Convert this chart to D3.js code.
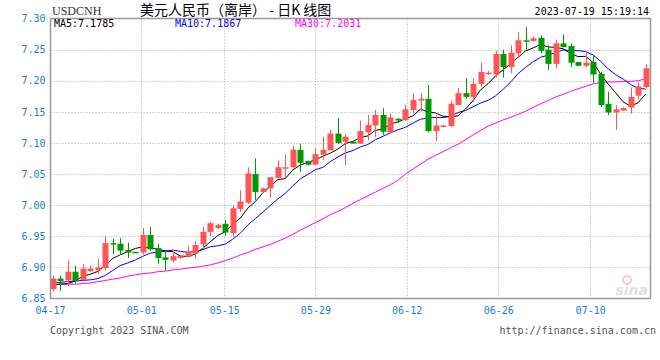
<!DOCTYPE html>
<html>
<head>
<meta charset="utf-8">
<script src="https://cdn.jsdelivr.net/npm/d3@7"></script>
<style>
body { margin: 0; background: #fff; }
</style>
</head>
<body>
<div id="chart"></div>
<script>

var openV  = [6.865,6.882,6.879,6.893,6.880,6.894,6.895,6.899,6.939,6.938,6.928,6.925,6.924,6.952,6.931,6.916,6.911,6.915,6.917,6.922,
              6.937,6.957,6.963,6.970,6.955,6.994,7.004,7.050,7.021,7.027,7.044,7.059,7.061,7.089,7.071,7.065,7.081,7.088,7.115,7.102,
              7.102,7.099,7.117,7.128,7.145,7.117,7.139,7.137,7.153,7.168,7.171,7.119,7.126,7.127,7.161,7.180,7.174,7.195,7.211,7.210,
              7.243,7.222,7.244,7.265,7.264,7.269,7.250,7.227,7.260,7.256,7.230,7.224,7.230,7.211,7.163,7.149,7.152,7.157,7.176,7.190];
var highV  = [6.887,6.887,6.911,6.903,6.905,6.903,6.914,6.950,6.946,6.947,6.940,6.925,6.963,6.965,6.938,6.928,6.928,6.920,6.934,6.942,
              6.965,6.973,6.970,6.976,7.000,7.024,7.061,7.075,7.028,7.045,7.072,7.081,7.096,7.099,7.071,7.091,7.110,7.121,7.140,7.115,
              7.103,7.136,7.145,7.153,7.156,7.147,7.140,7.161,7.180,7.180,7.193,7.145,7.129,7.168,7.189,7.204,7.204,7.229,7.216,7.248,
              7.250,7.257,7.278,7.286,7.271,7.273,7.257,7.266,7.274,7.260,7.230,7.247,7.241,7.214,7.182,7.161,7.157,7.189,7.197,7.227];
var lowV   = [6.862,6.862,6.870,6.874,6.877,6.893,6.889,6.895,6.921,6.920,6.915,6.925,6.921,6.927,6.905,6.895,6.908,6.914,6.916,6.914,
              6.930,6.950,6.962,6.951,6.949,6.989,7.002,7.008,7.020,7.012,7.043,7.044,7.059,7.053,7.064,7.065,7.073,7.088,7.099,7.064,
              7.099,7.099,7.104,7.110,7.113,7.116,7.132,7.135,7.147,7.151,7.117,7.103,7.125,7.126,7.160,7.171,7.166,7.190,7.209,7.205,
              7.205,7.212,7.236,7.250,7.263,7.244,7.217,7.220,7.254,7.222,7.224,7.222,7.196,7.158,7.145,7.121,7.152,7.147,7.170,7.188];
var closeV = [6.882,6.878,6.893,6.878,6.898,6.898,6.900,6.939,6.937,6.927,6.924,6.925,6.952,6.929,6.915,6.912,6.918,6.918,6.924,6.936,
              6.957,6.971,6.968,6.956,6.995,7.006,7.051,7.021,7.027,7.045,7.061,7.061,7.089,7.068,7.065,7.082,7.089,7.115,7.100,7.110,
              7.099,7.119,7.129,7.145,7.118,7.141,7.136,7.154,7.169,7.171,7.119,7.128,7.128,7.163,7.180,7.174,7.195,7.214,7.213,7.243,
              7.222,7.245,7.265,7.264,7.268,7.248,7.227,7.260,7.254,7.229,7.224,7.229,7.210,7.161,7.149,7.154,7.156,7.174,7.191,7.220];

var ma5  = [6.872,6.873,6.874,6.878,6.8858,6.889,6.8934,6.9026,6.9144,6.9202,6.9254,6.9304,6.933,6.9314,6.929,6.9266,6.9252,6.9184,6.9174,6.9216,
            6.9306,6.9412,6.9512,6.9576,6.9694,6.9792,6.9952,7.0058,7.020,7.030,7.041,7.043,7.0566,7.0648,7.0688,7.073,7.0786,7.0838,7.0902,7.0992,
            7.1026,7.1086,7.1114,7.1204,7.122,7.1304,7.1338,7.1388,7.1436,7.1542,7.1498,7.1482,7.143,7.1418,7.1436,7.1546,7.168,7.1852,7.1952,7.2078,
            7.2174,7.2274,7.2376,7.2478,7.2528,7.258,7.2544,7.2534,7.2514,7.2436,7.2388,7.2392,7.2292,7.2106,7.1946,7.1806,7.166,7.1588,7.1648,7.1785];
var ma10 = [6.875,6.876,6.877,6.878,6.879,6.880,6.882,6.887,6.895,6.903,6.9072,6.9119,6.9178,6.9229,6.9246,6.926,6.9278,6.9257,6.9244,6.9253,
            6.9286,6.9332,6.9348,6.9375,6.9455,6.9549,6.9682,6.9785,6.9888,6.9997,7.0101,7.0191,7.0312,7.0424,7.0494,7.057,7.0608,7.0702,7.0775,7.084,
            7.0878,7.0936,7.0976,7.1053,7.1106,7.1165,7.1212,7.1251,7.132,7.1381,7.1401,7.141,7.1409,7.1427,7.1489,7.1522,7.1581,7.1641,7.1685,7.1757,
            7.186,7.1977,7.2114,7.2215,7.2303,7.2377,7.2409,7.2455,7.2496,7.2482,7.2484,7.2468,7.2413,7.231,7.2191,7.2097,7.2026,7.194,7.1877,7.1867];
var ma30 = [6.873,6.873,6.873,6.873,6.874,6.875,6.877,6.879,6.881,6.883,6.886,6.888,6.890,6.891,6.893,6.894,6.896,6.897,6.899,6.900,
            6.902,6.904,6.907,6.911,6.915,6.920,6.924,6.929,6.933,6.937,6.942,6.947,6.953,6.960,6.966,6.972,6.978,6.985,6.990,6.996,
            7.003,7.009,7.015,7.021,7.027,7.033,7.040,7.050,7.058,7.066,7.074,7.080,7.086,7.092,7.098,7.105,7.113,7.120,7.127,7.132,
            7.137,7.141,7.146,7.151,7.157,7.163,7.168,7.174,7.178,7.183,7.187,7.191,7.195,7.197,7.198,7.198,7.199,7.199,7.200,7.2031];

var tickLabels = ["04-17", "05-01", "05-15", "05-29", "06-12", "06-26", "07-10"];
var tickPos = [-0.35, 11.8, 22.85, 35, 47.15, 59.35, 71.6];
var yTicks = [6.85, 6.90, 6.95, 7.00, 7.05, 7.10, 7.15, 7.20, 7.25, 7.30];

var svgWidth = 660;
var svgHeight = 360;
var plot = { left: 50.5, right: 650.5, top: 18.5, bottom: 298.5 };

var mono = "'DejaVu Sans Mono', 'Liberation Mono', monospace";
var blueText = "#1a7fd0";
var upColor = "#ff5555";
var downColor = "#009900";

var svg = d3.select("#chart")
    .append("svg")
    .attr("width", svgWidth)
    .attr("height", svgHeight);

var n = closeV.length;
var x = d3.scaleLinear()
    .domain([0, n - 1])
    .range([52.7, 645.7]);

var y = d3.scaleLinear()
    .domain([6.85, 7.30])
    .range([plot.bottom, plot.top]);

// grid
var grid = svg.append("g");

grid.selectAll(".hgrid")
    .data(yTicks.slice(1, -1))
    .enter()
    .append("line")
    .attr("x1", plot.left)
    .attr("x2", plot.right)
    .attr("y1", d => Math.round(y(d)) + 0.5)
    .attr("y2", d => Math.round(y(d)) + 0.5)
    .attr("stroke", "#aaa")
    .attr("stroke-dasharray", "1,2");

grid.selectAll(".vgrid")
    .data(tickPos)
    .enter()
    .append("line")
    .attr("x1", d => Math.round(x(d)) + 0.5)
    .attr("x2", d => Math.round(x(d)) + 0.5)
    .attr("y1", plot.top)
    .attr("y2", plot.bottom)
    .attr("stroke", "#aaa")
    .attr("stroke-dasharray", "1,2");

// y axis labels
var leftAxis = d3.axisLeft(y)
    .tickValues(yTicks)
    .tickFormat(d3.format(".2f"))
    .tickSize(0)
    .tickPadding(5);

var yAxis = svg.append("g")
    .attr("transform", `translate(${plot.left}, 0)`)
    .call(leftAxis);
yAxis.select(".domain").remove();
yAxis.selectAll("text")
    .attr("fill", blueText)
    .attr("font-family", mono)
    .attr("font-size", "10px");

// x axis labels
var bottomAxis = d3.axisBottom(x)
    .tickValues(tickPos)
    .tickFormat((d, i) => tickLabels[i])
    .tickSize(0)
    .tickPadding(8);

var xAxis = svg.append("g")
    .attr("transform", `translate(0, ${plot.bottom})`)
    .call(bottomAxis);
xAxis.select(".domain").remove();
xAxis.selectAll("text")
    .attr("fill", blueText)
    .attr("font-family", mono)
    .attr("font-size", "10px");

// watermark
var logo = svg.append("g").attr("opacity", 0.55);
logo.append("circle")
    .attr("cx", 627)
    .attr("cy", 280)
    .attr("r", 4)
    .attr("fill", "none")
    .attr("stroke", "#f3a0a0")
    .attr("stroke-width", 2);
logo.append("text")
    .attr("x", 648)
    .attr("y", 295)
    .attr("text-anchor", "end")
    .attr("font-family", "'DejaVu Sans', sans-serif")
    .attr("font-style", "italic")
    .attr("font-weight", "bold")
    .attr("font-size", "14px")
    .attr("fill", "#c8c8c8")
    .text("sina");

// moving averages
var maLine = function(values) {
    return d3.line()
        .x((d, i) => x(i))
        .y(d => y(d))(values);
};

svg.append("path").attr("d", maLine(ma30)).attr("fill", "none").attr("stroke", "#ff00ff").attr("stroke-width", 1);
svg.append("path").attr("d", maLine(ma10)).attr("fill", "none").attr("stroke", "#0000ff").attr("stroke-width", 1);
svg.append("path").attr("d", maLine(ma5)).attr("fill", "none").attr("stroke", "#000").attr("stroke-width", 1);

// candles
var candles = svg.selectAll(".candle")
    .data(closeV)
    .enter()
    .append("g")
    .attr("class", "candle");

var colorOf = i => closeV[i] > openV[i] ? upColor : downColor;

candles.append("line")
    .attr("x1", (d, i) => Math.round(x(i)) + 0.5)
    .attr("x2", (d, i) => Math.round(x(i)) + 0.5)
    .attr("y1", (d, i) => y(highV[i]))
    .attr("y2", (d, i) => y(lowV[i]))
    .attr("stroke", (d, i) => colorOf(i))
    .attr("stroke-width", 1);

candles.append("rect")
    .attr("x", (d, i) => Math.round(x(i)) - 2.5)
    .attr("width", 6)
    .attr("y", (d, i) => y(Math.max(openV[i], closeV[i])))
    .attr("height", (d, i) => Math.max(1.5, Math.abs(y(openV[i]) - y(closeV[i]))))
    .attr("fill", (d, i) => colorOf(i));

// frame
svg.append("rect")
    .attr("x", plot.left)
    .attr("y", plot.top)
    .attr("width", plot.right - plot.left)
    .attr("height", plot.bottom - plot.top)
    .attr("fill", "none")
    .attr("stroke", "#999")
    .attr("stroke-width", 1.5);

// header texts
svg.append("text")
    .attr("x", 52)
    .attr("y", 15)
    .attr("font-family", "'Liberation Serif', serif")
    .attr("font-size", "12px")
    .attr("fill", "#333")
    .text("USDCNH");

svg.append("text")
    .attr("x", 140)
    .attr("y", 15)
    .attr("font-family", "'Noto Sans CJK SC', sans-serif")
    .attr("font-size", "14px")
    .attr("fill", "#000")
    .text("美元人民币（离岸） - 日K 线图");

svg.append("text")
    .attr("x", 649)
    .attr("y", 15)
    .attr("text-anchor", "end")
    .attr("font-family", mono)
    .attr("font-size", "10px")
    .attr("fill", "#000")
    .text("2023-07-19 15:19:14");

var maLabels = [
    { x: 54, color: "#000", text: "MA5:" + ma5[n - 1].toFixed(4) },
    { x: 175, color: "#0000ff", text: "MA10:" + ma10[n - 1].toFixed(4) },
    { x: 295, color: "#ff00ff", text: "MA30:" + ma30[n - 1].toFixed(4) }
];
svg.selectAll(".malabel")
    .data(maLabels)
    .enter()
    .append("text")
    .attr("x", d => d.x)
    .attr("y", 27)
    .attr("font-family", mono)
    .attr("font-size", "10px")
    .attr("fill", d => d.color)
    .text(d => d.text);

// footer
svg.append("text")
    .attr("x", 50)
    .attr("y", 334)
    .attr("font-family", mono)
    .attr("font-size", "10px")
    .attr("fill", "#555")
    .text("Copyright 2023 SINA.COM");

svg.append("text")
    .attr("x", 656)
    .attr("y", 334)
    .attr("text-anchor", "end")
    .attr("font-family", mono)
    .attr("font-size", "10px")
    .attr("fill", "#555")
    .text("http://finance.sina.com.cn");

</script>
</body>
</html>
